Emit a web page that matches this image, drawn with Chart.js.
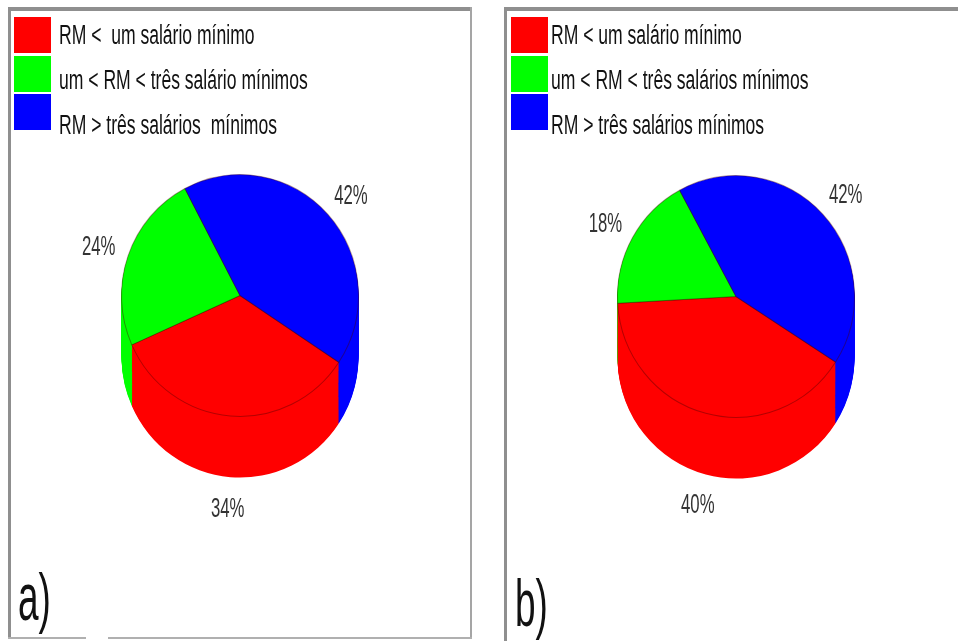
<!DOCTYPE html>
<html lang="pt">
<head>
<meta charset="utf-8">
<title>Renda mensal</title>
<script src="https://cdn.jsdelivr.net/npm/chart.js@4"></script>
<style>
  html, body { margin: 0; padding: 0; background: #fff; overflow: hidden; }
  body { position: relative; width: 958px; height: 641px; font-family: "Liberation Sans", Arial, sans-serif; }
  .line { position: absolute; background: #8f8f8f; }
  canvas { position: absolute; }
  .swatch { position: absolute; width: 37px; height: 36px; }
  .entry {
    position: absolute; white-space: pre; color: #111; font-size: 27px; line-height: 30px;
    transform: scaleX(0.65); transform-origin: left center;
  }
  .panel-tag {
    position: absolute; color: #111; font-size: 66px; line-height: 70px;
    transform: scaleX(0.56); transform-origin: left center;
  }
</style>
</head>
<body>
<div class="line" style="left:8px;top:7px;width:464px;height:4px"></div>
<div class="line" style="left:8px;top:7px;width:3px;height:631px"></div>
<div class="line" style="left:470px;top:7px;width:2px;height:632px;background:#a5a5a5"></div>
<div class="line" style="left:8px;top:637px;width:78px;height:2px;background:#b0b0b0"></div>
<div class="line" style="left:108px;top:637px;width:364px;height:2px;background:#b0b0b0"></div>
<div class="line" style="left:504px;top:7px;width:454px;height:4px"></div>
<div class="line" style="left:504px;top:7px;width:3px;height:634px"></div>

<canvas id="pieA" width="460" height="627" style="left:10px;top:10px"></canvas>
<canvas id="pieB" width="448" height="627" style="left:510px;top:10px"></canvas>

<script>
// Faixas de renda mensal (RM) das duas amostras
const labelsA = ['RM <  um salário mínimo', 'um < RM < três salário mínimos', 'RM > três salários  mínimos'];
const labelsB = ['RM < um salário mínimo', 'um < RM < três salários mínimos', 'RM > três salários mínimos'];
const valuesA = [34, 24, 42];
const valuesB = [40, 18, 42];
const sliceColors = ['#ff0000', '#00ff00', '#0000ff'];

const legendRowsTop = [17, 56, 94];
const legendTextMiddle = [35, 80, 125];
const DEPTH = 60;
const STRETCH_Y = 1.02;

// Parede lateral da pizza: repete as fatias de baixo para cima antes da face superior
const sideWall = {
  id: 'sideWall',
  beforeDatasetsDraw(chart) {
    const ctx = chart.ctx;
    const arcs = chart.getDatasetMeta(0).data;
    const cy = arcs[0].y;
    // a pizza fica um pouco mais alta do que larga
    ctx.save();
    ctx.translate(0, cy);
    ctx.scale(1, STRETCH_Y);
    ctx.translate(0, -cy);
    for (let d = DEPTH; d >= 1; d--) {
      ctx.save();
      ctx.translate(0, d);
      arcs.forEach((arc) => {
        const saved = arc.options;
        arc.options = Object.assign({}, saved, { borderWidth: 0 });
        arc.draw(ctx);
        arc.options = saved;
      });
      ctx.restore();
    }
  },
  afterDatasetsDraw(chart) {
    chart.ctx.restore();
  }
};

// Percentuais em volta da pizza, abaixo da parede quando a fatia aponta para baixo
const percentLabels = {
  id: 'percentLabels',
  afterDatasetsDraw(chart) {
    const ctx = chart.ctx;
    const values = chart.data.datasets[0].data;
    chart.getDatasetMeta(0).data.forEach((arc, i) => {
      const mid = (arc.startAngle + arc.endAngle) / 2;
      const r = arc.outerRadius + 31;
      const x = arc.x + Math.cos(mid) * r;
      let y = arc.y + Math.sin(mid) * r + 1;
      if (Math.sin(mid) > 0) y += DEPTH + 4;
      ctx.save();
      ctx.translate(x, y);
      ctx.scale(0.62, 1);
      ctx.font = '27px "Liberation Sans"';
      ctx.fillStyle = '#333';
      ctx.textAlign = 'center';
      ctx.textBaseline = 'middle';
      ctx.fillText(values[i] + '%', 0, 0);
      ctx.restore();
    });
  }
};

function createPie(canvasId, labels, values, rotation, padding) {
  return new Chart(document.getElementById(canvasId), {
    type: 'pie',
    data: {
      labels: labels,
      datasets: [{
        data: values,
        backgroundColor: sliceColors,
        borderColor: 'rgba(70,0,0,0.4)',
        borderWidth: 1
      }]
    },
    options: {
      responsive: false,
      animation: false,
      events: [],
      rotation: rotation,
      layout: { padding: padding },
      plugins: {
        legend: { display: false },
        tooltip: { enabled: false }
      }
    },
    plugins: [sideWall, percentLabels]
  });
}

function createLegend(labels, boxLeft, textLeft) {
  labels.forEach((label, i) => {
    const box = document.createElement('div');
    box.className = 'swatch';
    box.style.left = boxLeft + 'px';
    box.style.top = legendRowsTop[i] + 'px';
    box.style.background = sliceColors[i];
    document.body.appendChild(box);

    const text = document.createElement('div');
    text.className = 'entry';
    text.style.left = textLeft + 'px';
    text.style.top = (legendTextMiddle[i] - 15) + 'px';
    text.textContent = label;
    document.body.appendChild(text);
  });
}

function createTag(text, left, top) {
  const tag = document.createElement('div');
  tag.className = 'panel-tag';
  tag.style.left = left + 'px';
  tag.style.top = top + 'px';
  tag.textContent = text;
  document.body.appendChild(tag);
}

createPie('pieA', labelsA, valuesA, 123.5, { left: 111, right: 111, top: 166, bottom: 222 });
createPie('pieB', labelsB, valuesB, 122.8, { left: 107, right: 103, top: 167, bottom: 221 });
createLegend(labelsA, 14, 59);
createLegend(labelsB, 511, 551);
createTag('a)', 18, 562);
createTag('b)', 515, 568);
</script>
</body>
</html>
